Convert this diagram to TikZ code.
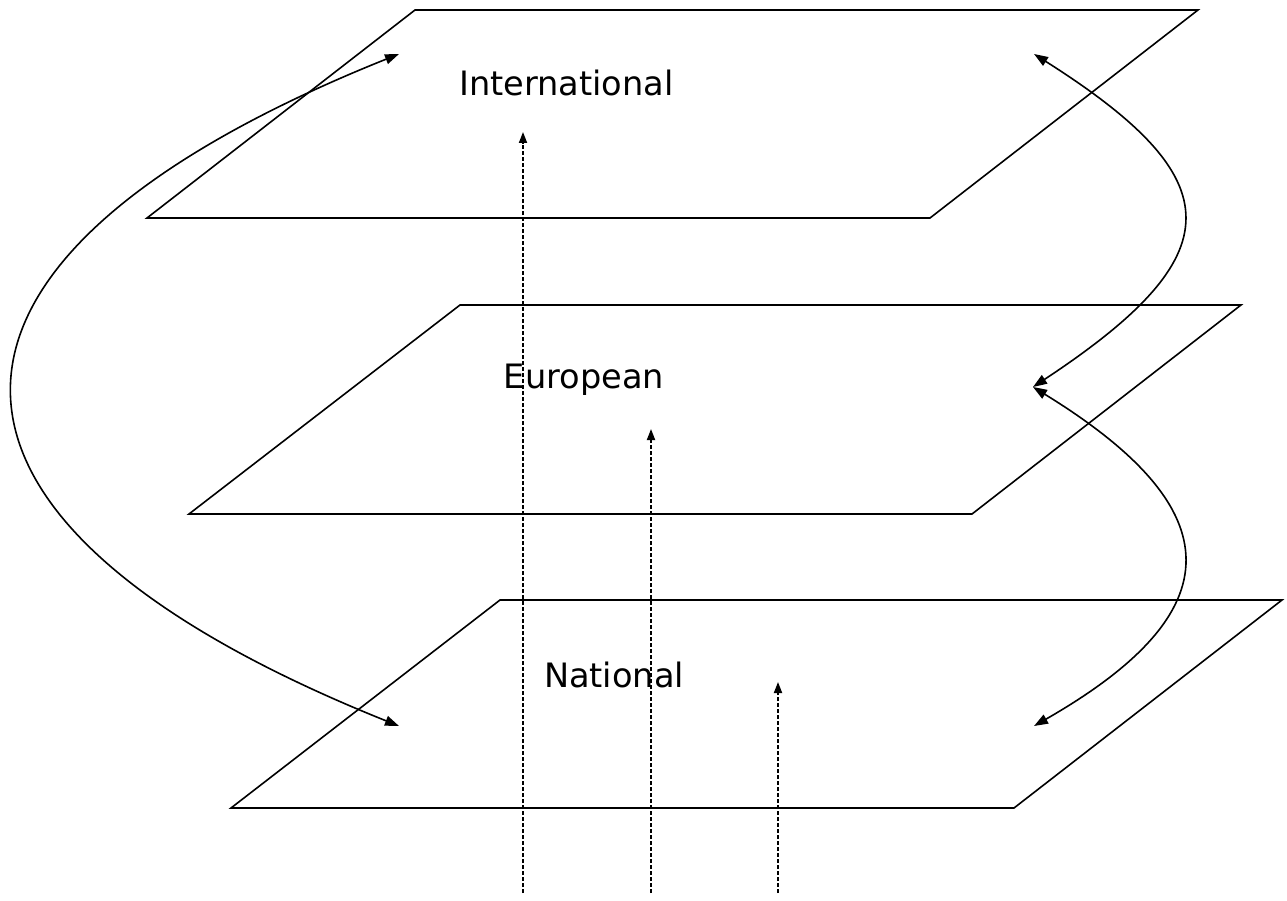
\documentclass[tikz,border=0pt]{standalone}
\usepackage{fontspec}
\setmainfont{DejaVu Sans}
\usetikzlibrary{arrows.meta}
\begin{document}
\begin{tikzpicture}[x=1pt,y=-1pt,
  plane/.style={draw=black,line width=1.6pt,line join=miter},
  curvearrow/.style={draw=black,line width=1.6pt,{Triangle[length=14pt,width=10pt]}-{Triangle[length=14pt,width=10pt]}},
  dasharrow/.style={draw=black,line width=1.8pt,dash pattern=on 4pt off 2pt,-{Triangle[length=11pt,width=8pt]}},
  lbl/.style={font=\fontsize{33.6}{40}\selectfont,inner sep=0pt}]
\useasboundingbox (0,0) rectangle (1287,901);
% planes
\draw[plane] (415,10) -- (1198,10) -- (930,218) -- (147,218) -- cycle;
\draw[plane] (460,305) -- (1241,305) -- (972,514) -- (189,514) -- cycle;
\draw[plane] (500,600) -- (1282,600) -- (1014,808) -- (231,808) -- cycle;
% labels
\node[lbl] (intl) at (566.5,83) {International};
\node[lbl] (euro) at (584,380) {European};
\node[lbl] (nat) at (614,675) {National};
% anchor coordinates
\coordinate (tl) at (399,54);
\coordinate (bl) at (399,726);
\coordinate (tr) at (1034,54);
\coordinate (mr) at (1033,387);
\coordinate (br) at (1034,726);
\coordinate (s1) at (523,893);
\coordinate (e1) at (523,132);
\coordinate (s2) at (651,893);
\coordinate (e2) at (651,429);
\coordinate (s3) at (778,893);
\coordinate (e3) at (778,682);
% curved arrows
\draw[curvearrow] (tl) .. controls (-115,260) and (-115,520) .. (bl);
\draw[curvearrow] (tr) .. controls (1233,180) and (1233,255) .. (mr);
\draw[curvearrow] (mr) .. controls (1233,510) and (1233,612) .. (br);
% dashed arrows
\draw[dasharrow] (s1) -- (e1);
\draw[dasharrow] (s2) -- (e2);
\draw[dasharrow] (s3) -- (e3);
\end{tikzpicture}
\end{document}
